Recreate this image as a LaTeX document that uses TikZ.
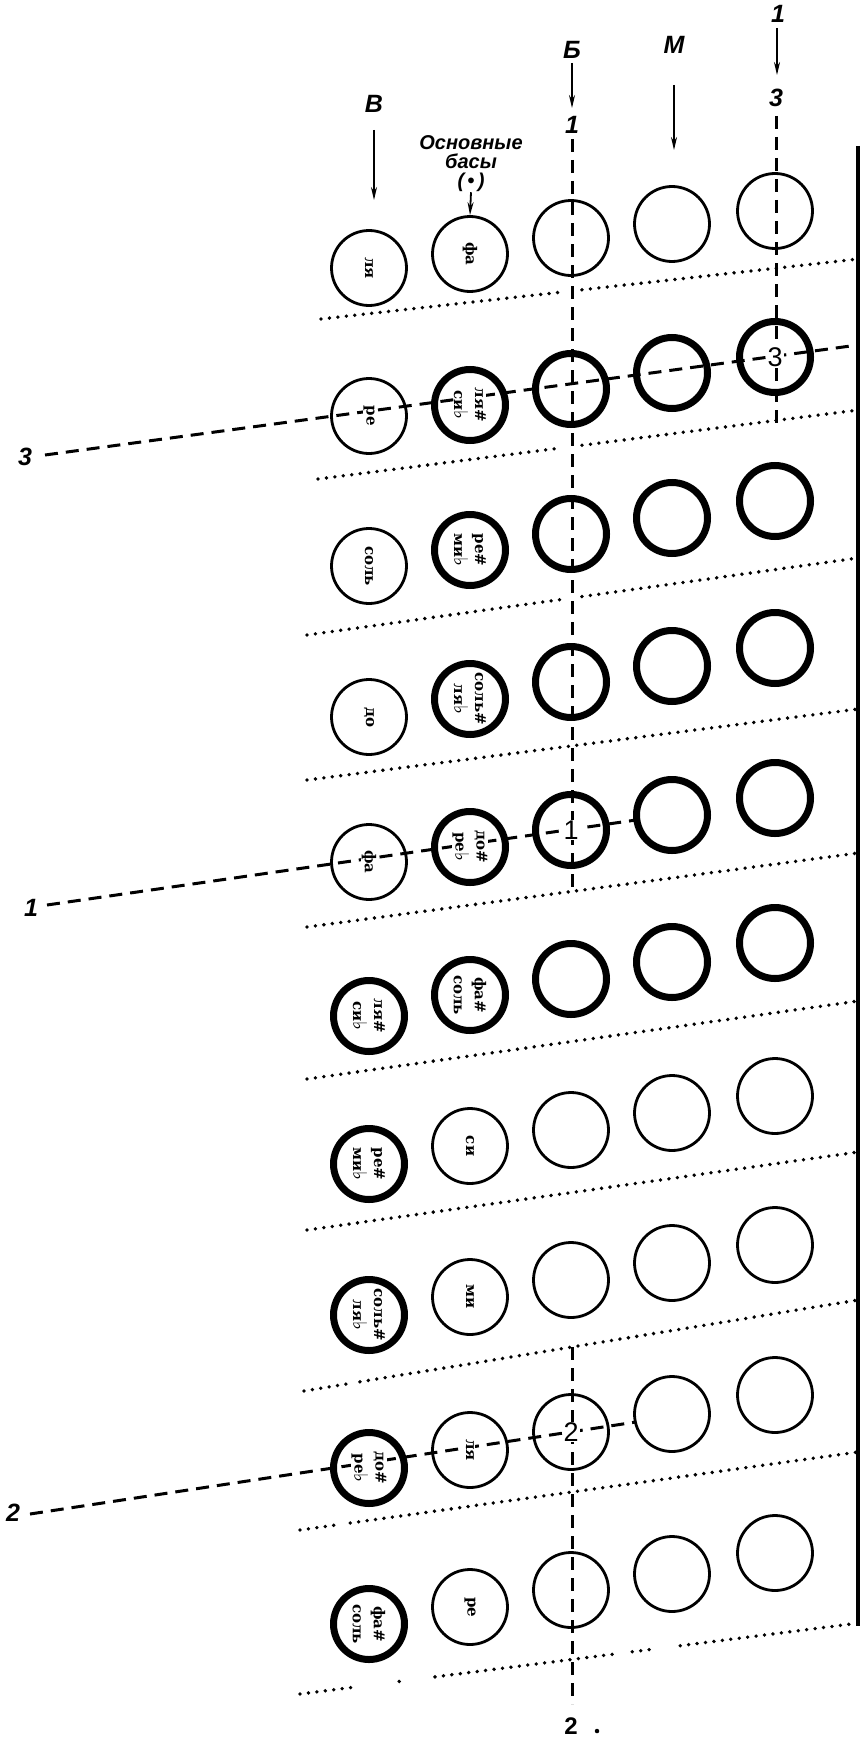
\documentclass[tikz,border=0pt]{standalone}
\usepackage{fontspec}
\setmainfont{Liberation Sans}
\newfontfamily\notefont{DejaVu Serif}
\newfontfamily\symfont{DejaVu Sans}
\usetikzlibrary{arrows.meta,calc}
\newcommand{\fl}{{\symfont\bfseries\fontsize{19}{21}\selectfont ♭}}
\begin{document}
\begin{tikzpicture}[x=1pt,y=-1pt,
  kthin/.style={circle,draw,line width=2.8pt,minimum size=75pt,inner sep=0pt},
  kthick/.style={circle,draw,line width=7pt,minimum size=71pt,inner sep=0pt},
  note/.style={rotate=-90,font=\notefont\bfseries\fontsize{15}{21}\selectfont,align=center,inner sep=0.5pt,fill=white},
  lab/.style={font=\bfseries\itshape\fontsize{25}{25}\selectfont,inner sep=0pt},
  num/.style={font=\fontsize{27}{27}\selectfont,fill=white,inner sep=1pt},
  dotline/.style={line width=3.8pt,dash pattern=on 0pt off 8.5pt,line cap=round},
  dashline/.style={line width=3pt,dash pattern=on 13pt off 8pt},
  arr/.style={line width=1.8pt,-{Stealth[length=13pt,width=6pt]}}]
\useasboundingbox (0,0) rectangle (865,1747);

% circles
\foreach \r/\ya/\yb/\yc/\yd/\ye/\sa/\sb in {
 1/268/254/238/224/211/kthin/kthin,
 2/416/405/389/373/357/kthin/kthick,
 3/566/550/534/518/501/kthin/kthick,
 4/717/699/682/666/648/kthin/kthick,
 5/862/847/830/815/798/kthin/kthick,
 6/1016/995/979/962/943/kthick/kthick,
 7/1164/1146/1130/1113/1096/kthick/kthin,
 8/1315/1297/1280/1263/1245/kthick/kthin,
 9/1468/1450/1432/1414/1395/kthick/kthin,
 10/1624/1607/1590/1574/1553/kthick/kthin}
{
 \node[\sa] (c\r-1) at (369,\ya) {};
 \node[\sb] (c\r-2) at (470,\yb) {};
 \node[\sb] (c\r-3) at (571,\yc) {};
 \node[\sb] (c\r-4) at (672,\yd) {};
 \node[\sb] (c\r-5) at (775,\ye) {};
}

% right edge
\coordinate (rt) at (858,146);
\coordinate (rb) at (858,1626);
\draw[line width=4pt] (rt) -- (rb);

% dotted separators
\coordinate (d1L) at (321,319);  \coordinate (d1R) at (858,259);
\coordinate (d2L) at (318,479);  \coordinate (d2R) at (858,410);
\coordinate (d3L) at (307,635);  \coordinate (d3R) at (858,558);
\coordinate (d4L) at (307,780);  \coordinate (d4R) at (858,709);
\coordinate (d5L) at (307,927);  \coordinate (d5R) at (858,853);
\coordinate (d6L) at (307,1079); \coordinate (d6R) at (858,1001);
\coordinate (d7L) at (307,1230); \coordinate (d7R) at (858,1152);
\coordinate (d8L) at (304,1391); \coordinate (d8R) at (858,1300);
\coordinate (d9L) at (300,1530); \coordinate (d9R) at (858,1452);
\coordinate (d10L) at (300,1694); \coordinate (d10R) at (851,1624);
\draw[dotline] (d1L) -- ($(d1L)!0.449!(d1R)$) ($(d1L)!0.486!(d1R)$) -- (d1R);
\draw[dotline] (d2L) -- ($(d2L)!0.452!(d2R)$) ($(d2L)!0.489!(d2R)$) -- (d2R);
\draw[dotline] (d3L) -- ($(d3L)!0.463!(d3R)$) ($(d3L)!0.499!(d3R)$) -- (d3R);
\draw[dotline] (d4L) -- (d4R);
\draw[dotline] (d5L) -- (d5R);
\draw[dotline] (d6L) -- (d6R);
\draw[dotline] (d7L) -- (d7R);
\draw[dotline] (d8L) -- ($(d8L)!0.076!(d8R)$) ($(d8L)!0.101!(d8R)$) -- (d8R);
\draw[dotline] (d9L) -- ($(d9L)!0.065!(d9R)$) ($(d9L)!0.09!(d9R)$) -- (d9R);
\draw[dotline] (d10L) -- ($(d10L)!0.098!(d10R)$)
  ($(d10L)!0.18!(d10R)$) -- ($(d10L)!0.181!(d10R)$)
  ($(d10L)!0.245!(d10R)$) -- ($(d10L)!0.571!(d10R)$)
  ($(d10L)!0.603!(d10R)$) -- ($(d10L)!0.64!(d10R)$)
  ($(d10L)!0.69!(d10R)$) -- (d10R);

% top labels and arrows
\node[lab] (lV) at (374,104) {В};
\coordinate (aV1) at (374,130); \coordinate (aV2) at (374,200);
\draw[arr] (aV1) -- (aV2);

\node[font=\bfseries\itshape\fontsize{20}{19}\selectfont,align=center,inner sep=0pt] (osn) at (471,164) {Основные\\басы\\(\,•\,)};
\draw[arr] (osn.south) -- (c1-2.north);

\node[lab] (lB) at (572,50) {Б};
\coordinate (aB1) at (572,63); \coordinate (aB2) at (572,108);
\draw[arr] (aB1) -- (aB2);
\node[lab] (lB1) at (572,125) {1};

\node[lab] (lM) at (674,45) {М};
\coordinate (aM1) at (674,85); \coordinate (aM2) at (674,150);
\draw[arr] (aM1) -- (aM2);

\node[lab] (lT1) at (778,14) {1};
\coordinate (aT1) at (777,28); \coordinate (aT2) at (777,75);
\draw[arr] (aT1) -- (aT2);
\node[lab] (lT3) at (776,98) {3};

% vertical dashed lines
\coordinate (vB1) at (572,139); \coordinate (vB2) at (572,892);
\coordinate (vB3) at (572,1347); \coordinate (vB4) at (572,1704);
\draw[dashline] (vB1) -- (vB2);
\draw[dashline] (vB3) -- (vB4);
\coordinate (v51) at (776,116); \coordinate (v52) at (776,424);
\draw[dashline] (v51) -- (v52);

% left labels and horizontal dashed lines
\node[lab] (l3) at (25,457) {3};
\node[lab] (l1) at (31,908) {1};
\node[lab] (l2) at (13,1513) {2};
\coordinate (s3) at (45,455);  \coordinate (e3) at (858,345);
\coordinate (s1) at (47,905);  \coordinate (e1) at (636,820);
\coordinate (s2) at (30,1514); \coordinate (e2) at (636,1422);
\draw[dashline] (s3) -- (e3);
\draw[dashline] (s1) -- (e1);
\draw[dashline] (s2) -- (e2);

% bottom label
\node[font=\bfseries\fontsize{24}{24}\selectfont,inner sep=0pt] (lb2) at (571,1726) {2};
\node[circle,fill,inner sep=0pt,minimum size=4.5pt] (bdot) at (597,1731) {};

% numbers in circles
\node[num] (n3) at (c2-5) {3};
\node[num] (n1) at (c5-3) {1};
\node[num] (n2) at (c9-3) {2};

% note names
\node[note] (t1-1) at (c1-1) {ля};
\node[note] (t1-2) at (c1-2) {фа};
\node[note] (t2-1) at (c2-1) {ре};
\node[note] (t2-2) at (c2-2) {ля\#\\си\fl};
\node[note] (t3-1) at (c3-1) {соль};
\node[note] (t3-2) at (c3-2) {ре\#\\ми\fl};
\node[note] (t4-1) at (c4-1) {до};
\node[note] (t4-2) at (c4-2) {соль\#\\ля\fl};
\node[note] (t5-1) at (c5-1) {фа};
\node[note] (t5-2) at (c5-2) {до\#\\ре\fl};
\node[note] (t6-1) at (c6-1) {ля\#\\си\fl};
\node[note] (t6-2) at (c6-2) {фа\#\\соль};
\node[note] (t7-1) at (c7-1) {ре\#\\ми\fl};
\node[note] (t7-2) at (c7-2) {си};
\node[note] (t8-1) at (c8-1) {соль\#\\ля\fl};
\node[note] (t8-2) at (c8-2) {ми};
\node[note] (t9-1) at (c9-1) {до\#\\ре\fl};
\node[note] (t9-2) at (c9-2) {ля};
\node[note] (t10-1) at (c10-1) {фа\#\\соль};
\node[note] (t10-2) at (c10-2) {ре};
\end{tikzpicture}
\end{document}
